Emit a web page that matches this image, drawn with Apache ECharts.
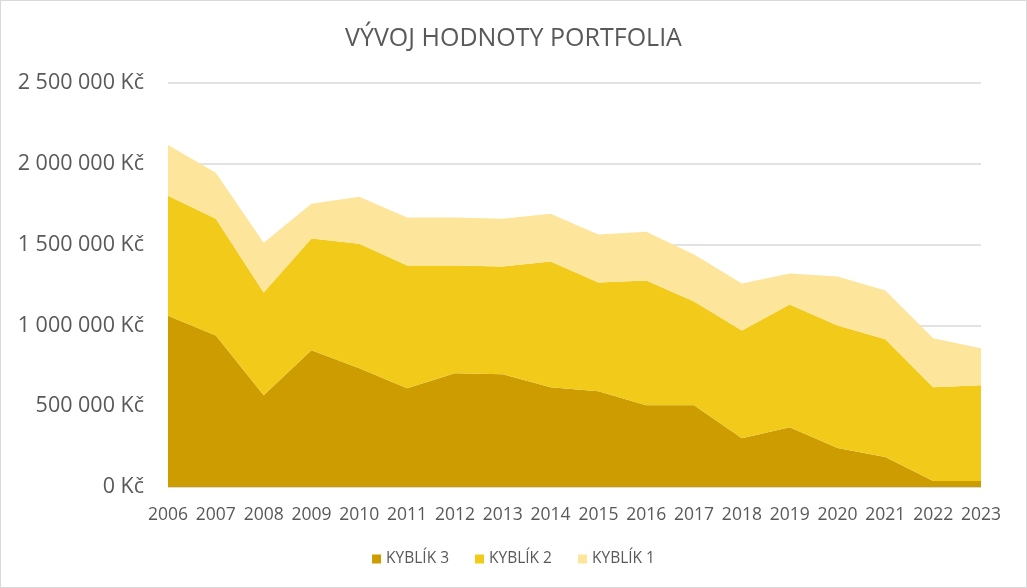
<!DOCTYPE html>
<html>
<head>
<meta charset="utf-8">
<script src="https://cdn.jsdelivr.net/npm/echarts@6/dist/echarts.min.js"></script>
<style>
html,body{margin:0;padding:0;background:#fff;}
#c{width:1025px;height:586px;border:1px solid #d9d9d9;}
</style>
</head>
<body>
<div id="c"></div>
<script>
const years = ['2006','2007','2008','2009','2010','2011','2012','2013','2014','2015','2016','2017','2018','2019','2020','2021','2022','2023'];
const kyblik3 = [1060000,938000,568000,846000,735000,611000,704000,698000,617000,593000,506000,506000,302000,370000,241000,185000,37000,37000];
const kyblik2 = [742000,722000,636000,691000,771000,759000,666000,666000,778000,672000,772000,642000,667000,760000,759000,729000,580000,593000];
const kyblik1 = [315000,284000,308000,216000,290000,297000,297000,296000,296000,297000,302000,290000,290000,191000,302000,302000,303000,228000];
const yTicks = [0,500000,1000000,1500000,2000000,2500000];

function fmt(v){
  return String(v).replace(/\B(?=(\d{3})+(?!\d))/g,' ') + ' Kč';
}

const chart = echarts.init(document.getElementById('c'));
const colors = ['#CC9C00','#F2CA19','#FDE59B'];
function s(name, data, color){
  return {name, type:'line', stack:'total', data, symbol:'none',
    lineStyle:{width:0}, areaStyle:{color:color, opacity:1}, itemStyle:{color:color}};
}
chart.setOption({
  animation:false,
  title:{text:'VÝVOJ HODNOTY PORTFOLIA', left:'center', top:20,
    textStyle:{fontFamily:'Open Sans, sans-serif', fontSize:25, fontWeight:'normal', color:'#595959'}},
  legend:{bottom:15, left:'center', itemWidth:9, itemHeight:9, itemGap:26, icon:'rect',
    textStyle:{fontFamily:'Open Sans, sans-serif', fontSize:15.5, color:'#595959'},
    data:['KYBLÍK 3','KYBLÍK 2','KYBLÍK 1']},
  grid:{left:167, right:45, top:82, bottom:100},
  xAxis:{type:'category', data:years, boundaryGap:false,
    axisLine:{lineStyle:{color:'#d9d9d9'}}, axisTick:{show:false},
    axisLabel:{interval:0, fontFamily:'Open Sans, sans-serif', fontSize:17.5, color:'#595959', margin:19}},
  yAxis:{type:'value', min:0, max:2500000, interval:500000,
    axisLine:{show:false}, axisTick:{show:false},
    splitLine:{lineStyle:{color:'#d9d9d9', width:1.5}},
    axisLabel:{formatter:fmt, fontFamily:'Open Sans, sans-serif', fontSize:21.5, color:'#595959', margin:24}},
  series:[s('KYBLÍK 3',kyblik3,colors[0]), s('KYBLÍK 2',kyblik2,colors[1]), s('KYBLÍK 1',kyblik1,colors[2])]
});
</script>
</body>
</html>
